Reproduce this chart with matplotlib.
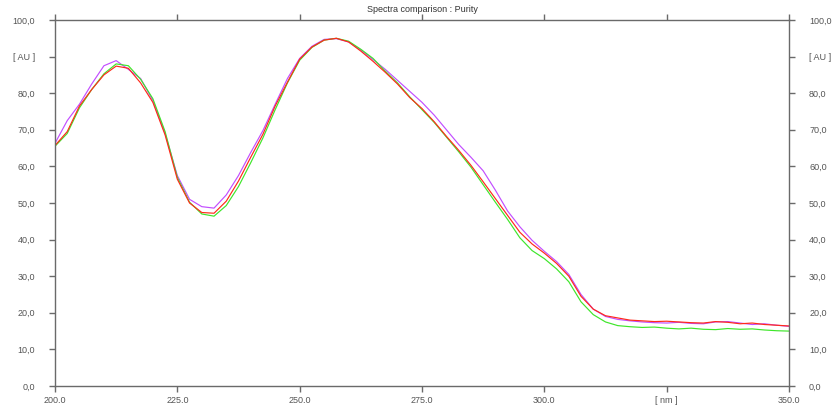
import matplotlib
matplotlib.use("Agg")
import matplotlib.pyplot as plt

plt.rcParams["font.family"] = ["Liberation Sans", "DejaVu Sans"]

# Wavelength grid [nm]
wavelength = [200, 202.5, 205, 207.5, 210, 212.5, 215, 217.5, 220, 222.5,
              225, 227.5, 230, 232.5, 235, 237.5, 240, 242.5, 245, 247.5,
              250, 252.5, 255, 257.5, 260, 262.5, 265, 267.5, 270, 272.5,
              275, 277.5, 280, 282.5, 285, 287.5, 290, 292.5, 295, 297.5,
              300, 302.5, 305, 307.5, 310, 312.5, 315, 317.5, 320, 322.5,
              325, 327.5, 330, 332.5, 335, 337.5, 340, 342.5, 345, 347.5, 350]

# Normalised absorbance [AU] of the three compared spectra
spec_red = [65.7, 69.5, 76.5, 81.0, 85.0, 87.4, 86.8, 82.8, 77.5, 68.6,
            56.5, 50.0, 47.4, 47.2, 50.5, 56.0, 62.5, 68.8, 76.5, 83.0,
            89.3, 92.6, 94.5, 95.0, 94.0, 91.5, 88.7, 85.7, 82.5, 78.8,
            75.8, 72.2, 68.2, 64.4, 60.3, 55.8, 51.2, 46.6, 42.0, 38.8,
            36.3, 33.5, 30.0, 24.5, 21.0, 19.2, 18.6, 18.0, 17.8, 17.6,
            17.7, 17.5, 17.3, 17.2, 17.6, 17.4, 17.0, 17.2, 16.8, 16.6, 16.4]

spec_magenta = [66.3, 72.5, 77.0, 82.5, 87.5, 88.9, 86.5, 84.0, 78.0, 69.0,
                57.5, 51.0, 49.0, 48.6, 52.2, 57.5, 63.8, 69.8, 77.0, 84.0,
                89.5, 92.8, 94.7, 94.9, 94.0, 91.8, 89.2, 86.5, 83.5, 80.5,
                77.5, 74.0, 70.0, 66.0, 62.5, 58.8, 53.5, 47.8, 43.5, 39.8,
                36.8, 34.0, 30.5, 25.0, 21.0, 19.0, 18.2, 17.8, 17.5, 17.3,
                17.2, 17.4, 17.1, 17.0, 17.5, 17.6, 17.2, 16.8, 17.0, 16.6, 16.3]

spec_green = [65.5, 69.0, 76.0, 81.0, 85.3, 88.0, 87.5, 83.8, 78.5, 69.5,
              57.0, 50.2, 47.0, 46.4, 49.3, 54.5, 61.0, 67.8, 75.5, 82.8,
              89.0, 92.5, 94.5, 95.0, 94.2, 92.0, 89.5, 86.0, 82.8, 79.0,
              75.5, 72.0, 68.0, 64.0, 59.8, 55.0, 50.2, 45.5, 40.5, 37.0,
              34.8, 32.0, 28.5, 23.0, 19.5, 17.5, 16.5, 16.2, 16.0, 16.1,
              15.8, 15.6, 15.8, 15.5, 15.4, 15.7, 15.5, 15.6, 15.3, 15.1, 15.0]

x_ticks = [200, 225, 250, 275, 300, 325, 350]
x_labels = ["200.0", "225.0", "250.0", "275.0", "300.0", "[ nm ]", "350.0"]
y_ticks = [0, 10, 20, 30, 40, 50, 60, 70, 80, 90, 100]
y_labels = ["0,0", "10,0", "20,0", "30,0", "40,0", "50,0", "60,0", "70,0",
            "80,0", "[ AU ]", "100,0"]

fig = plt.figure(figsize=(8.32, 4.07), dpi=100)
ax = fig.add_axes([0.0661, 0.0516, 0.8822, 0.8993])

ax.plot(wavelength, spec_magenta, color="#c24dff", lw=0.85)
ax.plot(wavelength, spec_green, color="#3ee62a", lw=0.85)
ax.plot(wavelength, spec_red, color="#ff2a1a", lw=0.85)

ax.set_xlim(200, 350)
ax.set_ylim(0, 100)

spine_col = "#6a6a6a"
for s in ax.spines.values():
    s.set_color(spine_col)
    s.set_linewidth(1.0)

ax.set_xticks(x_ticks)
ax.set_xticklabels(x_labels)
ax.set_yticks(y_ticks)
ax.set_yticklabels(y_labels)

ax.tick_params(axis="both", direction="out", length=4.5, width=1.0,
               color=spine_col, labelcolor="#555555", labelsize=6.5)
ax.tick_params(axis="x", top=True, labeltop=False, pad=3)
ax.tick_params(axis="y", right=True, labelright=True, pad=10)

ax.set_title("Spectra comparison : Purity", fontsize=6.5, color="#333333", pad=6)

fig.savefig("out.png", dpi=100, facecolor="white")
